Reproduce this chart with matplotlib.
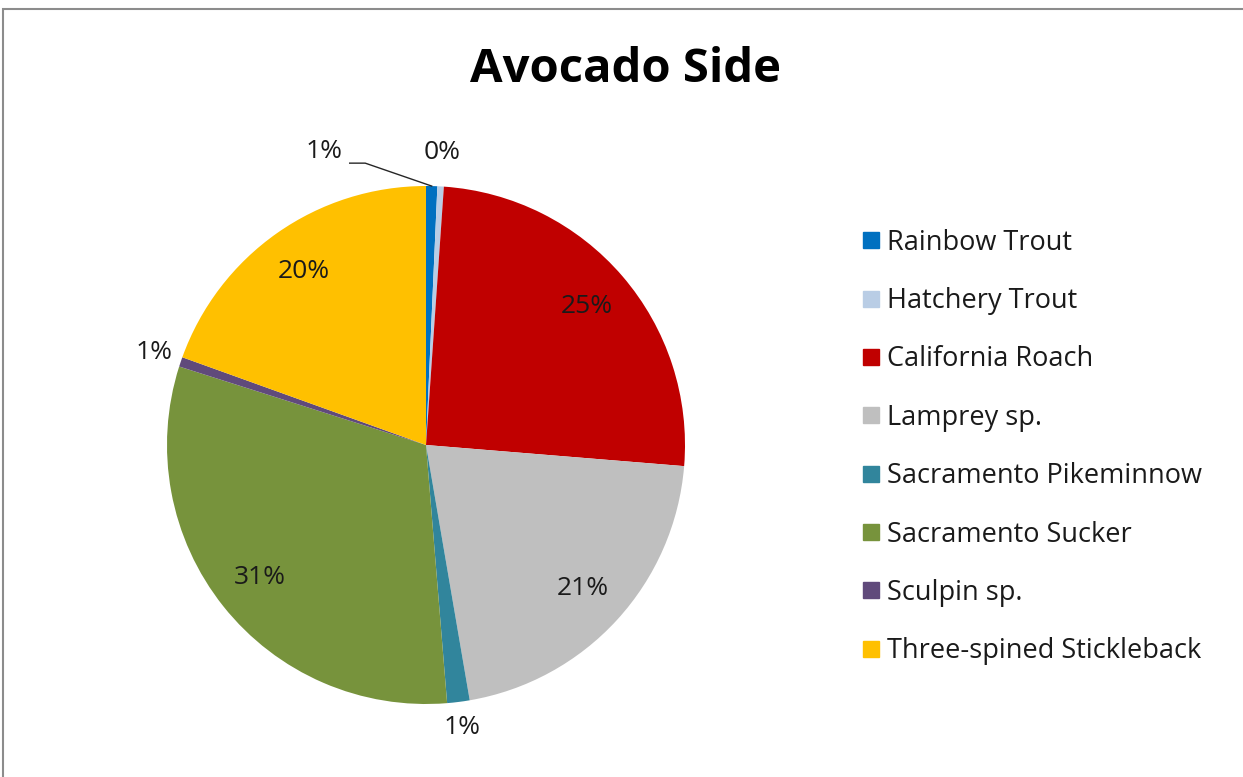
import numpy as np
import matplotlib.pyplot as plt
from matplotlib.lines import Line2D
from matplotlib.patches import Rectangle

plt.rcParams['font.family'] = ['Open Sans', 'DejaVu Sans']

species = ['Rainbow Trout', 'Hatchery Trout', 'California Roach', 'Lamprey sp.',
           'Sacramento Pikeminnow', 'Sacramento Sucker', 'Sculpin sp.',
           'Three-spined Stickleback']
share = [0.7, 0.4, 25.2, 21.0, 1.4, 31.2, 0.6, 19.5]
colors = ['#0070C0', '#B9CDE5', '#C00000', '#BFBFBF', '#31859C', '#77933C',
          '#604A7B', '#FFC000']

W, H = 1243, 777
fig = plt.figure(figsize=(W / 100, H / 100), dpi=100)

# gray chart frame
fig.patches.append(Rectangle((3 / W, -0.01), 1.02, 1 - 9 / H + 0.01, transform=fig.transFigure,
                             fill=False, edgecolor='#8c8c8c', linewidth=1.5))

cx, cy, r = 426, 445, 259
ax = fig.add_axes([(cx - r) / W, (H - cy - r) / H, 2 * r / W, 2 * r / H])
wedges, _ = ax.pie(share, colors=colors, startangle=90, counterclock=False,
                   radius=1, wedgeprops=dict(linewidth=0))
ax.set_xlim(-1, 1)
ax.set_ylim(-1, 1)
ax.axis('off')

lab_size = 19
for i, w in enumerate(wedges):
    mid = np.deg2rad((w.theta1 + w.theta2) / 2)
    pct = '{0}%'.format(int(round(share[i])))
    if share[i] >= 5:
        d = 0.82
        ax.text(d * np.cos(mid), d * np.sin(mid), pct, ha='center', va='center',
                fontsize=lab_size, color='#1a1a1a', clip_on=False)
    elif i == 0:
        # leader line label
        ex, ey = np.cos(mid), np.sin(mid)
        tx, ty = 1.2 * np.cos(np.deg2rad(90 + 19.2)), 1.2 * np.sin(np.deg2rad(90 + 19.2))
        ax.text(tx, ty, pct, ha='center', va='center', fontsize=lab_size, color='#1a1a1a')
        ax.plot([tx + 0.1, tx + 0.16, ex], [ty - 0.045, ty - 0.045, ey],
                color='#262626', linewidth=1, clip_on=False)
    else:
        d = 1.1 + 0.03 * max(np.sin(mid), 0)
        ax.text(d * np.cos(mid), d * np.sin(mid), pct, ha='center', va='center',
                fontsize=lab_size, color='#1a1a1a', clip_on=False)

fig.text(625 / W, 1 - 70 / H, 'Avocado Side', ha='center', va='center',
         fontsize=34, fontweight='bold', color='black')

handles = [Line2D([], [], marker='s', linestyle='none', markersize=12,
                  markerfacecolor=c, markeredgecolor=c) for c in colors]
fig.legend(handles, species, loc='upper left', bbox_to_anchor=(852 / W, 1 - 218 / H),
           frameon=False, fontsize=19.5, handlelength=0.6, handletextpad=0.3,
           labelspacing=1.12, borderaxespad=0, labelcolor='#1a1a1a')

fig.savefig('out.png', dpi=100, facecolor='white')
